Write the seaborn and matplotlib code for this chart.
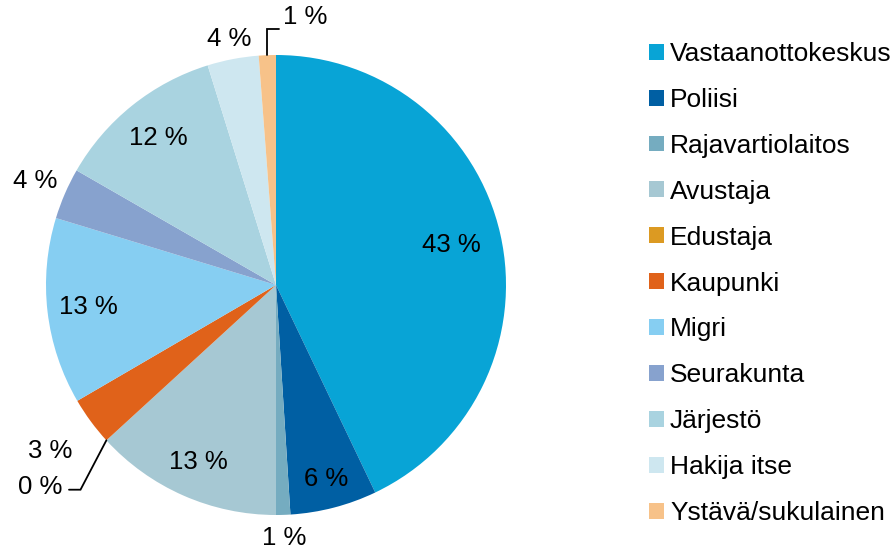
import numpy as np
import matplotlib
matplotlib.use("Agg")
import matplotlib.pyplot as plt
import seaborn as sns
from matplotlib.patches import Patch

sns.set_theme(style="white")
plt.rcParams["font.family"] = ["Liberation Sans", "DejaVu Sans"]
plt.rcParams["text.color"] = "black"

# Data (shares in percent)
categories = ["Vastaanottokeskus", "Poliisi", "Rajavartiolaitos", "Avustaja",
              "Edustaja", "Kaupunki", "Migri", "Seurakunta", "Järjestö",
              "Hakija itse", "Ystävä/sukulainen"]
shares = [42.9, 6.1, 1.0, 13.2, 0.0, 3.4, 13.1, 3.6, 11.9, 3.6, 1.2]
colors = ["#08A4D6", "#005FA3", "#75ACC0", "#A6C8D3", "#DC9A22", "#E0621A",
          "#86CEF2", "#87A2CE", "#A9D3E0", "#CEE7F0", "#F7C289"]

# distance of each value label from the centre (pie radius = 1)
label_r = [0.78, 0.87, 1.10, 0.84, None, 1.22, 0.82, 1.14, 0.82, 1.09, None]

palette = sns.color_palette(colors)

fig = plt.figure(figsize=(8.96, 5.5), dpi=100)
ax = fig.add_axes([46 / 896, 35 / 550, 460 / 896, 460 / 550])

wedges, _ = ax.pie(shares, colors=palette, startangle=90, counterclock=False,
                   radius=1.0, wedgeprops=dict(linewidth=0))
ax.set_xlim(-1, 1)
ax.set_ylim(-1, 1)
ax.set_aspect("equal")
ax.axis("off")

fs = 18.5
for w, val, r in zip(wedges, shares, label_r):
    mid = np.deg2rad((w.theta1 + w.theta2) / 2)
    txt = f"{val:.0f} %"
    if r is not None:
        ax.text(r * np.cos(mid), r * np.sin(mid), txt, ha="center", va="center",
                fontsize=fs, color="black")

# leader-line labels (Edustaja, Ystävä/sukulainen)
w = wedges[4]
mid = np.deg2rad((w.theta1 + w.theta2) / 2)
x0, y0 = np.cos(mid), np.sin(mid)
ax.plot([x0, -0.85, -0.90], [y0, -0.89, -0.89], color="black", lw=1.3,
        clip_on=False, solid_joinstyle="miter")
ax.text(-0.93, -0.88, f"{shares[4]:.0f} %", ha="right", va="center",
        fontsize=fs, color="black")

w = wedges[10]
mid = np.deg2rad((w.theta1 + w.theta2) / 2)
x0, y0 = np.cos(mid), np.sin(mid)
ax.plot([x0, x0, 0.013], [y0, 1.113, 1.113], color="black", lw=1.3,
        clip_on=False, solid_joinstyle="miter")
ax.text(0.03, 1.165, f"{shares[10]:.0f} %", ha="left", va="center",
        fontsize=fs, color="black")

handles = [Patch(facecolor=c, edgecolor="none") for c in palette]
fig.legend(handles, categories, loc="upper left",
           bbox_to_anchor=(649 / 896, 1 - 42 / 550), frameon=False,
           fontsize=19, handlelength=0.55, handleheight=0.55,
           handletextpad=0.25, labelspacing=0.83, borderpad=0,
           borderaxespad=0)

fig.savefig("out.png", dpi=100)
